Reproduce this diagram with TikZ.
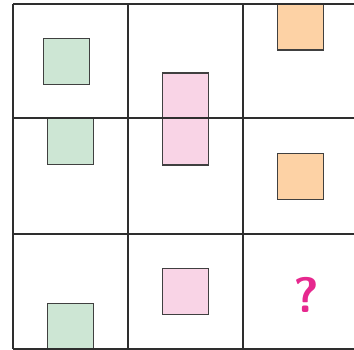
\documentclass[tikz,border=0pt]{standalone}
\usepackage{xcolor}
\usetikzlibrary{calc}

\definecolor{sqgreen}{HTML}{CDE6D4}
\definecolor{sqpink}{HTML}{F9D4E6}
\definecolor{sqorange}{HTML}{FDD2A5}
\definecolor{qmark}{HTML}{E6288E}
\definecolor{gridcol}{HTML}{2E2E2E}

\begin{document}
\begin{tikzpicture}[x=1bp, y=-1bp,
    sq/.style={draw=black!75, line width=1.1bp, minimum width=46bp, minimum height=46bp, inner sep=0pt},
    greensq/.style={sq, fill=sqgreen},
    pinksq/.style={sq, fill=sqpink},
    orangesq/.style={sq, fill=sqorange},
    gridline/.style={draw=gridcol, line width=1.3bp}]
  \useasboundingbox (0,0) rectangle (354,350);
  \clip (0,0) rectangle (354,350);
  % tiles
  \node[greensq] (g1) at (66.5,61.5) {};
  \node[greensq] (g2) at (70.6,141.5) {};
  \node[greensq] (g3) at (70.6,326.2) {};
  \node[pinksq, minimum height=92bp] (p1) at (185.7,119) {};
  \node[pinksq] (p3) at (185.7,291.8) {};
  \node[orangesq] (o1) at (300.5,27) {};
  \node[orangesq] (o2) at (300.5,176.5) {};
  % grid
  \foreach \x in {13,128,243} \draw[gridline] (\x,4) -- (\x,349);
  \foreach \y in {4,118,234,349} \draw[gridline] (13,\y) -- (358,\y);
  % missing tile
  \node[text=qmark, font=\fontsize{50}{50}\selectfont\sffamily\bfseries, inner sep=0pt] (q) at (306.7,294.7) {?};
\end{tikzpicture}
\end{document}
